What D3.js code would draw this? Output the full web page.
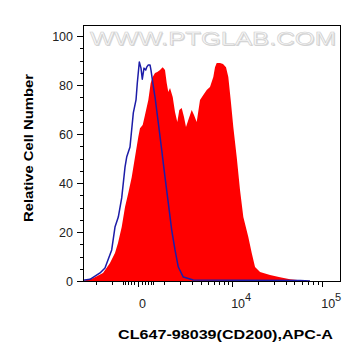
<!DOCTYPE html>
<html><head><meta charset="utf-8">
<script src="https://cdn.jsdelivr.net/npm/d3@7"></script>
<style>html,body{margin:0;padding:0;background:#fff;}svg{display:block;}</style>
</head><body>
<svg id="chart" width="363" height="361"></svg>
<script>
// ---- data (fluorescence value, relative count) ----
const redX = [-3143,-2220,-1497,-1087,-835,-697,-541,-413,-296,-184,-84,8,55,134,206,317,402,478,570,667,788,917,1034,1125,1214,1313,1478,1628,1786,1931,2115,2302,2473,2681,3010,3248,3546,3939,4364,4840,5339,5884,6181,6492,7132,7762,8438,8993,9605,10310,11304,12350,13490,15390,16830,18340,20880,27000,34800,44790,57530,73890];
const redY = [0,1.1,3.3,7.3,11.4,15.5,22.0,30.2,35.9,42.4,50.6,58.8,62.4,63.7,67.8,73.9,80.8,83.3,84.9,85.3,86.1,87.3,86.1,80.8,77.1,78.8,75.1,69.0,64.9,69.8,70.6,66.9,62.9,65.7,69.8,67.8,64.9,73.9,75.9,78.0,79.2,83.3,87.3,89.0,89.0,88.6,87.3,83.3,73.9,62.9,50.6,37.1,26.1,18.0,11.4,5.7,3.7,2.4,1.5,0.7,0.3,0];
const blueX = [-3143,-2473,-1695,-1373,-998,-835,-684,-541,-413,-352,-239,-134,-55,-19,36,84,122,175,229,262,317,377,413,478,570,711,868,1034,1214,1416,1628,1858,2244,3173,57530,73890];
const blueY = [0.3,0.7,3.3,5.3,12.7,22.0,26.1,33.9,46.5,50.6,54.7,68.6,73.9,80.8,89.4,86.9,82.4,86.9,86.1,87.3,88.2,88.2,86.1,81.2,75.1,64.5,53.5,42.4,31.8,20.8,12.7,5.7,1.6,0.4,0.2,0];
const yTickValues = [0,20,40,60,80,100];
const yMinorValues = [5,10,15,25,30,35,45,50,55,65,70,75,85,90,95];
const xMajorValues = [0,10000,100000];
const xMajorLabels = [{base:"0",exp:""},{base:"10",exp:"4"},{base:"10",exp:"5"}];
const xMinorValues = [-2000,-1000,-500,-400,-300,-200,-100,100,200,300,400,500,1000,2000,3000,4000,5000,6000,7000,8000,9000,20000,30000,40000,50000,60000,70000,80000,90000];
const xTitle = "CL647-98039(CD200),APC-A";
const yTitle = "Relative Cell Number";
const watermark = "WWW.PTGLAB.COM";

// ---- layout ----
const L = 83, R = 340, T = 25, B = 281;
const svg = d3.select("#chart");
const x = d3.scaleSymlog().constant(1100).domain([-3143,155400]).range([L,R]);
const y = d3.scaleLinear().domain([0,104.5]).range([B,T]);

// watermark
const wm = svg.append("g");
wm.append("text").attr("x",91).attr("y",46).text(watermark)
  .attr("font-family","Liberation Sans, Arial, sans-serif").attr("font-size",18.5)
  .attr("textLength",246).attr("lengthAdjust","spacingAndGlyphs")
  .attr("fill","#d4d4d4");
wm.append("text").attr("x",90).attr("y",45).text(watermark)
  .attr("font-family","Liberation Sans, Arial, sans-serif").attr("font-size",18.5)
  .attr("textLength",246).attr("lengthAdjust","spacingAndGlyphs")
  .attr("fill","#f6f6f6").attr("stroke","#cfcfcf").attr("stroke-width",0.5);

// red filled histogram
const redData = redX.map((v,i)=>({v, c: redY[i]}));
svg.append("path").datum(redData)
  .attr("d", d3.area().x(d=>x(d.v)).y0(y(0)).y1(d=>y(d.c)))
  .attr("fill","#ff0000");

// blue line histogram
const blueData = blueX.map((v,i)=>({v, c: blueY[i]}));
svg.append("path").datum(blueData)
  .attr("d", d3.line().x(d=>x(d.v)).y(d=>y(d.c)))
  .attr("fill","none").attr("stroke","#1c1ca8").attr("stroke-width",1.5).attr("stroke-linejoin","round");

// frame
svg.append("rect").attr("x",L).attr("y",T).attr("width",R-L).attr("height",B-T)
  .attr("fill","none").attr("stroke","#000").attr("stroke-width",1).attr("shape-rendering","crispEdges");

// y axis
const yAxis = d3.axisLeft(y).tickValues(yTickValues).tickSize(6).tickPadding(4);
const gy = svg.append("g").attr("transform",`translate(${L},0)`).call(yAxis);
gy.select(".domain").remove();
gy.selectAll("text").attr("font-family","Liberation Sans, Arial, sans-serif").attr("font-size",12.5).attr("fill","#222");
gy.selectAll("line").attr("stroke","#000").attr("shape-rendering","crispEdges");
const gym = svg.append("g").attr("transform",`translate(${L},0)`).call(d3.axisLeft(y).tickValues(yMinorValues).tickSize(3).tickFormat(""));
gym.select(".domain").remove();
gym.selectAll("line").attr("stroke","#000").attr("shape-rendering","crispEdges");

// x axis
const gxm = svg.append("g").attr("transform",`translate(0,${B})`).call(d3.axisBottom(x).tickValues(xMinorValues).tickSize(4).tickFormat(""));
gxm.select(".domain").remove();
gxm.selectAll("line").attr("stroke","#000").attr("shape-rendering","crispEdges");
const gx = svg.append("g").attr("transform",`translate(0,${B})`).call(d3.axisBottom(x).tickValues(xMajorValues).tickSize(6).tickFormat(""));
gx.select(".domain").remove();
gx.selectAll("line").attr("stroke","#000").attr("stroke-width",1.5).attr("shape-rendering","crispEdges");
const labs = svg.append("g").attr("font-family","Liberation Sans, Arial, sans-serif").attr("fill","#222");
xMajorValues.forEach((v,i)=>{
  const t = labs.append("text").attr("x", x(v) + (xMajorLabels[i].exp ? -1 : 1)).attr("y",308).attr("font-size",12.5);
  t.append("tspan").text(xMajorLabels[i].base);
  if (xMajorLabels[i].exp) t.append("tspan").attr("dy",-7).attr("font-size",11).text(xMajorLabels[i].exp);
});

// titles
svg.append("text").attr("x",225.5).attr("y",339).attr("text-anchor","middle")
  .attr("font-family","Liberation Sans, Arial, sans-serif").attr("font-weight","bold").attr("font-size",12)
  .attr("textLength",215).attr("lengthAdjust","spacingAndGlyphs").attr("fill","#000").text(xTitle);
svg.append("text").attr("transform","translate(33,148) rotate(-90)").attr("text-anchor","middle")
  .attr("font-family","Liberation Sans, Arial, sans-serif").attr("font-weight","bold").attr("font-size",12)
  .attr("textLength",148).attr("lengthAdjust","spacingAndGlyphs").attr("fill","#000").text(yTitle);
</script>
</body></html>
